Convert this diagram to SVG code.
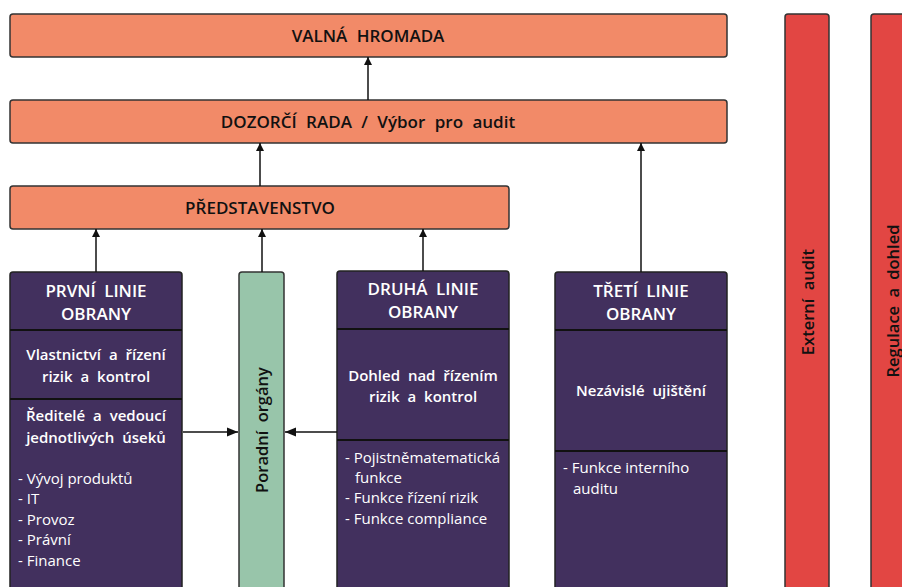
<svg xmlns="http://www.w3.org/2000/svg" width="902" height="587" viewBox="0 0 902 587">
<defs>
<style>
.top{fill:#F28A68;stroke:#333;stroke-width:1.5}
.line{fill:#42305E;stroke:#222;stroke-width:1.5}
.div{stroke:#111;stroke-width:2}
.adv{fill:#98C5AA;stroke:#333;stroke-width:1.5}
.ext{fill:#E24643;stroke:#333;stroke-width:1.5}
text{font-family:"Open Sans","Noto Sans",sans-serif}
.h{font-size:17px;font-weight:600;fill:#111;text-anchor:middle;word-spacing:5px}
.hw{font-size:17px;font-weight:600;fill:#fff;text-anchor:middle;word-spacing:4px}
.sw{font-size:15px;font-weight:600;fill:#fff;text-anchor:middle;word-spacing:4px}
.l{font-size:15px;fill:#fff}
.v{font-size:16.5px;font-weight:600;fill:#111;text-anchor:middle;word-spacing:4px}
.conn{stroke:#111;stroke-width:1.5;fill:none}
</style>
<marker id="ah" viewBox="0 0 10 10" refX="10" refY="5" markerWidth="8" markerHeight="8" markerUnits="userSpaceOnUse" orient="auto"><path d="M0,0 L10,5 L0,10 z" fill="#111"/></marker>
<marker id="ahs" viewBox="0 0 10 10" refX="10" refY="5" markerWidth="11" markerHeight="11" markerUnits="userSpaceOnUse" orient="auto"><path d="M0,1 L10,5 L0,9 z" fill="#111"/></marker>
</defs>
<g id="valna-hromada">
<rect class="top" x="10" y="14" width="717" height="43" rx="3"/>
<text class="h" x="368" y="42">VALNÁ HROMADA</text>
</g>
<g id="dozorci-rada">
<rect class="top" x="10" y="100" width="717" height="43" rx="3"/>
<text class="h" x="368" y="128">DOZORČÍ RADA / Výbor pro audit</text>
</g>
<g id="predstavenstvo">
<rect class="top" x="10" y="186" width="499" height="43" rx="3"/>
<text class="h" x="260" y="214">PŘEDSTAVENSTVO</text>
</g>
<g id="prvni-linie">
<rect class="line" x="10" y="272" width="172" height="330" rx="3"/>
<line class="div" x1="10" y1="330" x2="182" y2="330"/>
<line class="div" x1="10" y1="399" x2="182" y2="399"/>
<text class="hw" x="96" y="297">PRVNÍ LINIE</text>
<text class="hw" x="96" y="320">OBRANY</text>
<text class="sw" x="96" y="360">Vlastnictví a řízení</text>
<text class="sw" x="96" y="382">rizik a kontrol</text>
<text class="sw" x="96" y="421">Ředitelé a vedoucí</text>
<text class="sw" x="96" y="443">jednotlivých úseků</text>
<text class="l" x="18" y="484">- Vývoj produktů</text>
<text class="l" x="18" y="504">- IT</text>
<text class="l" x="18" y="525">- Provoz</text>
<text class="l" x="18" y="545">- Právní</text>
<text class="l" x="18" y="566">- Finance</text>
</g>
<g id="poradni-organy">
<rect class="adv" x="239" y="272" width="45" height="330" rx="3"/>
<text class="v" transform="translate(268,430) rotate(-90)">Poradní orgány</text>
</g>
<g id="druha-linie">
<rect class="line" x="337" y="271" width="172" height="330" rx="3"/>
<line class="div" x1="337" y1="329" x2="509" y2="329"/>
<line class="div" x1="337" y1="440" x2="509" y2="440"/>
<text class="hw" x="423" y="295">DRUHÁ LINIE</text>
<text class="hw" x="423" y="318">OBRANY</text>
<text class="sw" x="423" y="381">Dohled nad řízením</text>
<text class="sw" x="423" y="402">rizik a kontrol</text>
<text class="l" x="345" y="463">- Pojistněmatematická</text>
<text class="l" x="355" y="483">funkce</text>
<text class="l" x="345" y="503">- Funkce řízení rizik</text>
<text class="l" x="345" y="524">- Funkce compliance</text>
</g>
<g id="treti-linie">
<rect class="line" x="555" y="272" width="172" height="330" rx="3"/>
<line class="div" x1="555" y1="330" x2="727" y2="330"/>
<line class="div" x1="555" y1="451" x2="727" y2="451"/>
<text class="hw" x="641" y="297">TŘETÍ LINIE</text>
<text class="hw" x="641" y="320">OBRANY</text>
<text class="sw" x="641" y="396">Nezávislé ujištění</text>
<text class="l" x="563" y="473">- Funkce interního</text>
<text class="l" x="573" y="494">auditu</text>
</g>
<g id="externi-audit">
<rect class="ext" x="785" y="14" width="44" height="590" rx="3"/>
<text class="v" transform="translate(814,302) rotate(-90)">Externí audit</text>
</g>
<g id="regulace-dohled">
<rect class="ext" x="871" y="14" width="60" height="590" rx="3"/>
<text class="v" transform="translate(899,301) rotate(-90)">Regulace a dohled</text>
</g>
<g id="connectors">
<line class="conn" x1="368" y1="100" x2="368" y2="57" marker-end="url(#ah)"/>
<line class="conn" x1="260" y1="186" x2="260" y2="143" marker-end="url(#ah)"/>
<line class="conn" x1="641" y1="272" x2="641" y2="143" marker-end="url(#ah)"/>
<line class="conn" x1="96" y1="272" x2="96" y2="229" marker-end="url(#ah)"/>
<line class="conn" x1="262" y1="272" x2="262" y2="229" marker-end="url(#ah)"/>
<line class="conn" x1="423" y1="271" x2="423" y2="229" marker-end="url(#ah)"/>
<line class="conn" x1="183" y1="432" x2="238" y2="432" marker-end="url(#ahs)"/>
<line class="conn" x1="337" y1="432" x2="285" y2="432" marker-end="url(#ahs)"/>
</g>
</svg>
